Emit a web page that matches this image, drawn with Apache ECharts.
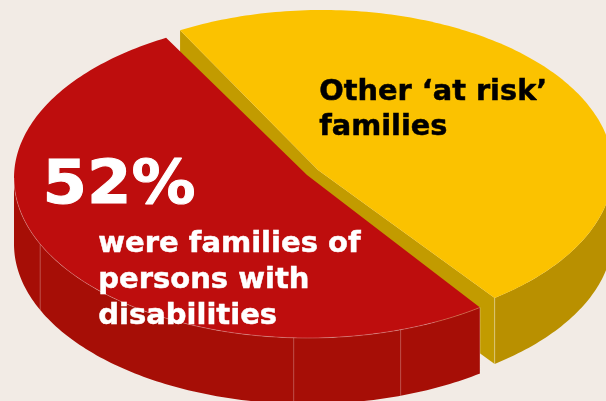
<!DOCTYPE html>
<html>
<head>
<meta charset="utf-8">
<style>html,body{margin:0;padding:0;background:#F2EBE5}#chart{width:606px;height:401px}</style>
<script src="https://cdn.jsdelivr.net/npm/echarts@6/dist/echarts.min.js"></script>
</head>
<body>
<div id="chart"></div>
<script>
// Shares of families, drawn anticlockwise from the pie's start angle
var categories = ['Other at risk families', 'Families of persons with disabilities'];
var shares = [48, 52];
var headline = '52%';
var redCaption = ['were families of', 'persons with', 'disabilities'];
var yellowCaption = ['Other \u2018at risk\u2019', 'families'];

// Tilted-disc geometry, in pixels
var startAngle = -54;
var depth = 66;
var sliceStyles = [
  { cx: 322, cy: 169.5, rx: 291, ry: 159.5, tipX: 318, tipY: 170, spin: 0.4, top: '#FBC200', wall: '#B99000', cut: '#C29B00', seams: [], rim: null, edge: 'rgba(255,255,255,0.35)' },
  { cx: 307.5, cy: 178, rx: 293.5, ry: 160, tipX: 307, tipY: 175, spin: 0, top: '#BE0D0D', wall: '#A60E06', cut: '#A60E06', seams: [204.4, 267.3, 288.5], rim: 'rgba(255,255,255,0.32)', edge: 'rgba(255,255,255,0.3)' }
];

function rad(a) { return a * Math.PI / 180; }
function rimPoint(s, a, drop) {
  return [s.cx + s.rx * Math.cos(rad(a)), s.cy - s.ry * Math.sin(rad(a)) + (drop || 0)];
}
function arc(s, from, to, drop) {
  var pts = [];
  var n = Math.max(2, Math.ceil(Math.abs(to - from)));
  for (var i = 0; i <= n; i++) pts.push(rimPoint(s, from + (to - from) * i / n, drop));
  return pts;
}
function cutWall(s, a, color) {
  var tip = [s.tipX, s.tipY];
  var p = rimPoint(s, a);
  return { type: 'polygon', shape: { points: [p, tip, [tip[0], tip[1] + depth], [p[0], p[1] + depth]] }, style: { fill: color } };
}

function renderSlice(params, api) {
  var total = shares.reduce(function (a, b) { return a + b; }, 0);
  var s = sliceStyles[params.dataIndex];
  var from = startAngle + s.spin;
  for (var i = 0; i < params.dataIndex; i++) from += shares[i] / total * 360;
  var to = from + api.value(0) / total * 360;
  var children = [];

  // Radial cut faces are only visible when they turn towards the viewer
  if (Math.sin(rad(from - 90)) < 0) children.push(cutWall(s, from, s.cut));
  if (Math.sin(rad(to + 90)) < 0) children.push(cutWall(s, to, s.cut));

  // Outer wall: the parts of the rim in the lower half of the disc
  [[180, 360], [540, 720], [-180, 0]].forEach(function (range) {
    var a = Math.max(from, range[0]);
    var b = Math.min(to, range[1]);
    if (a < b) {
      children.push({
        type: 'polygon',
        shape: { points: arc(s, a, b, 0).concat(arc(s, b, a, depth)) },
        style: { fill: s.wall }
      });
    }
  });

  // Corner highlight where the outer wall meets the cut face
  var low = (Math.sin(rad(from)) < 0) ? from : to;
  var corner = rimPoint(s, low);
  children.push({
    type: 'line',
    shape: { x1: corner[0], y1: corner[1], x2: corner[0], y2: corner[1] + depth },
    style: { stroke: s.edge, lineWidth: 1 }
  });

  // Thin facet seams on the wall
  s.seams.forEach(function (a) {
    var p = rimPoint(s, a);
    children.push({
      type: 'line',
      shape: { x1: p[0], y1: p[1], x2: p[0], y2: p[1] + depth },
      style: { stroke: 'rgba(255,255,255,0.28)', lineWidth: 1 }
    });
  });

  // Top face
  children.push({
    type: 'polygon',
    shape: { points: [[s.tipX, s.tipY]].concat(arc(s, from, to, 0)) },
    style: { fill: s.top }
  });

  if (s.rim) {
    children.push({
      type: 'polyline',
      shape: { points: arc(s, Math.max(from, 180), to, 0) },
      style: { stroke: s.rim, lineWidth: 0.8, fill: null }
    });
  }
  return { type: 'group', children: children };
}

function textLines(lines, x, firstTop, step, size, color, widen, weight) {
  return lines.map(function (line, i) {
    return {
      type: 'text',
      left: x,
      top: firstTop + i * step,
      silent: true,
      z: 10,
      scaleX: widen,
      style: {
        text: line,
        fill: color,
        stroke: color,
        lineWidth: weight,
        fontFamily: '"DejaVu Sans"',
        fontWeight: 'bold',
        fontSize: size
      }
    };
  });
}

var chart = echarts.init(document.getElementById('chart'), null, { renderer: 'canvas' });
chart.setOption({
  backgroundColor: '#F2EBE5',
  animation: false,
  series: [{
    type: 'custom',
    coordinateSystem: 'none',
    silent: true,
    clip: false,
    renderItem: renderSlice,
    data: categories.map(function (name, i) { return { name: name, value: [shares[i]] }; })
  }],
  graphic: {
    elements: textLines(yellowCaption, 319, 78, 35, 28.8, '#000000', 1, 0.5)
      .concat(textLines([headline], 42, 157, 0, 60, '#FFFFFF', 1.065, 1))
      .concat(textLines(redCaption, 98, 230, 36, 29, '#FFFFFF', 1, 0.5))
  }
});
</script>
</body>
</html>
